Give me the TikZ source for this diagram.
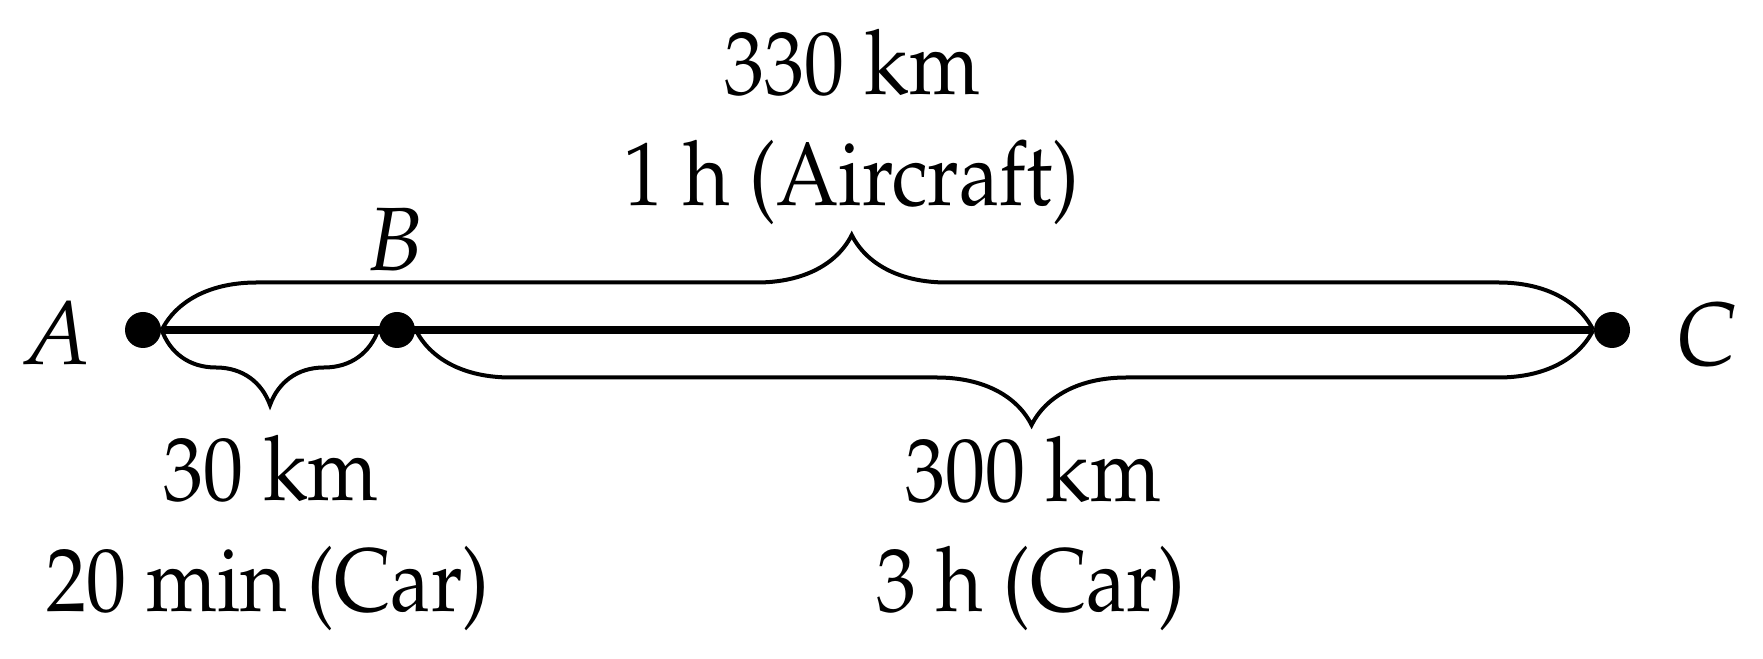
\documentclass[tikz,border=0pt]{standalone}
\usepackage{amsmath, amssymb}
\usepackage[T1]{fontenc}
\usepackage{mathpazo}
\usepackage{graphicx}
\usepackage{tikz}
\usetikzlibrary{decorations.pathreplacing}

\newcommand{\narrowtxt}[1]{\scalebox{0.89}[1]{#1}}

\begin{document}
\begin{tikzpicture}[x=0.25pt,y=-0.25pt,
  dot/.style={circle,fill=black,inner sep=0pt,minimum size=9pt},
  lbl/.style={anchor=base,inner sep=0pt,font=\fontsize{22.5}{27}\selectfont},
  cbrace/.style={decorate,line width=1pt}]
\useasboundingbox (0,0) rectangle (1763,659);

%Points
\node [dot] (A) at (143,330) {};
\node [dot] (B) at (397,330) {};
\node [dot] (C) at (1612,330) {};

%Straight Lines
\draw [line width=2pt] (A) -- (C) ;

%Braces
\draw [cbrace,decoration={brace,amplitude=23.75pt,aspect=0.482}] (A.east) -- (C.west) ;
\draw [cbrace,decoration={brace,amplitude=18.75pt,aspect=0.5}] (B.west) -- (A.east) ;
\draw [cbrace,decoration={brace,amplitude=23.75pt,aspect=0.477}] (C.west) -- (B.east) ;

% Text Node
\node [lbl] (lA) at (56,365) {$A$};
% Text Node
\node [lbl] (lB) at (395,271) {$B$};
% Text Node
\node [lbl] (lC) at (1707,366) {$C$};
% Text Node
\node [lbl] (dAC) at (852,95) {\narrowtxt{330 km}};
% Text Node
\node [lbl] (tAC) at (851,206) {\narrowtxt{1 h (Aircraft)}};
% Text Node
\node [lbl] (dAB) at (271,501) {\narrowtxt{30 km}};
% Text Node
\node [lbl] (tAB) at (268,612) {\narrowtxt{20 min (Car)}};
% Text Node
\node [lbl] (dBC) at (1033,502) {\narrowtxt{300 km}};
% Text Node
\node [lbl] (tBC) at (1031,612) {\narrowtxt{3 h (Car)}};

\end{tikzpicture}
\end{document}
